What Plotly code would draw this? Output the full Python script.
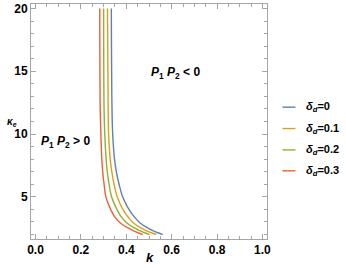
import plotly.graph_objects as go

# kappa_e levels (y) sampled along each curve
kappa = [20, 12, 10, 8, 7, 6, 5, 4.2, 3.4, 2.9, 2.5, 2.2, 2.0]
# k values (x) for each delta_d
k_d0 = [0.334, 0.337, 0.340, 0.348, 0.356, 0.368, 0.384, 0.405, 0.435, 0.462, 0.496, 0.529, 0.560]
k_d01 = [0.317, 0.320, 0.322, 0.329, 0.336, 0.346, 0.360, 0.379, 0.407, 0.433, 0.466, 0.500, 0.532]
k_d02 = [0.300, 0.302, 0.305, 0.311, 0.316, 0.324, 0.335, 0.353, 0.378, 0.404, 0.438, 0.471, 0.502]
k_d03 = [0.283, 0.285, 0.288, 0.292, 0.296, 0.302, 0.310, 0.326, 0.349, 0.375, 0.410, 0.442, 0.472]

legend_labels = ["<i>δ</i><sub><i>d</i></sub>=0", "<i>δ</i><sub><i>d</i></sub>=0.1",
                 "<i>δ</i><sub><i>d</i></sub>=0.2", "<i>δ</i><sub><i>d</i></sub>=0.3"]
colors = ["#5E81B5", "#E19C24", "#8FB032", "#EB6235"]
k_series = [k_d0, k_d01, k_d02, k_d03]

x_ticks = [0.0, 0.2, 0.4, 0.6, 0.8, 1.0]
x_tick_labels = ["0.0", "0.2", "0.4", "0.6", "0.8", "1.0"]
y_ticks = [5, 10, 15, 20]

FONT = "Liberation Sans"

fig = go.Figure()
for name, xs, col in zip(legend_labels, k_series, colors):
    fig.add_trace(go.Scatter(x=xs, y=kappa, mode="lines", name=name,
                             line=dict(color=col, width=1.4, shape="spline")))

frame = "#A6A6A6"
axis_common = dict(showgrid=False, zeroline=False, showline=True, linecolor=frame,
                   linewidth=1, mirror="allticks", ticks="inside", ticklen=5,
                   tickcolor=frame, tickwidth=1, automargin=False,
                   tickfont=dict(family=FONT, size=12, color="black", weight="bold"))

fig.update_xaxes(range=[-0.02, 1.02], tickvals=x_ticks, ticktext=x_tick_labels,
                 minor=dict(ticks="inside", ticklen=3, tickcolor=frame, dtick=0.05, showgrid=False),
                 **axis_common)
fig.update_yaxes(range=[1.64, 20.36], tickvals=y_ticks,
                 minor=dict(ticks="inside", ticklen=3, tickcolor=frame, dtick=1, tick0=0, showgrid=False),
                 **axis_common)

fig.add_annotation(text="<i>P</i><sub>1</sub> <i>P</i><sub>2</sub> &lt; 0", x=0.615, y=14.84,
                   xref="x", yref="y", showarrow=False,
                   font=dict(family=FONT, size=12, color="black", weight="bold"))
fig.add_annotation(text="<i>P</i><sub>1</sub> <i>P</i><sub>2</sub> &gt; 0", x=0.134, y=9.37,
                   xref="x", yref="y", showarrow=False,
                   font=dict(family=FONT, size=12, color="black", weight="bold"))
fig.add_annotation(text="<i>κ</i><sub><i>e</i></sub>", x=-0.11, y=11.0,
                   xref="paper", yref="y", showarrow=False,
                   font=dict(family=FONT, size=10, color="black", weight="bold"))
fig.add_annotation(text="<i>k</i>", x=0.503, y=-0.12,
                   xref="paper", yref="paper", showarrow=False,
                   font=dict(family=FONT, size=13, color="black", weight="bold"))

# manual legend (line swatch + label) placed to the right of the frame
legend_y = [0.561, 0.470, 0.379, 0.290]
for lab, col, ly in zip(legend_labels, colors, legend_y):
    fig.add_shape(type="line", xref="paper", yref="paper", x0=1.0655, x1=1.1205,
                  y0=ly, y1=ly, line=dict(color=col, width=1.4))
    fig.add_annotation(text=lab, x=1.155, y=ly, xref="paper", yref="paper",
                       xanchor="left", yanchor="middle", showarrow=False,
                       font=dict(family=FONT, size=11, color="black", weight="bold"))

fig.update_layout(
    width=346, height=277,
    margin=dict(l=31, r=78.5, t=3.5, b=37.7, autoexpand=False),
    paper_bgcolor="white", plot_bgcolor="white",
    showlegend=False,
)

fig.write_html("out.html", config={"displayModeBar": False},
               post_script="document.body.style.margin='0';document.body.style.padding='0';")
